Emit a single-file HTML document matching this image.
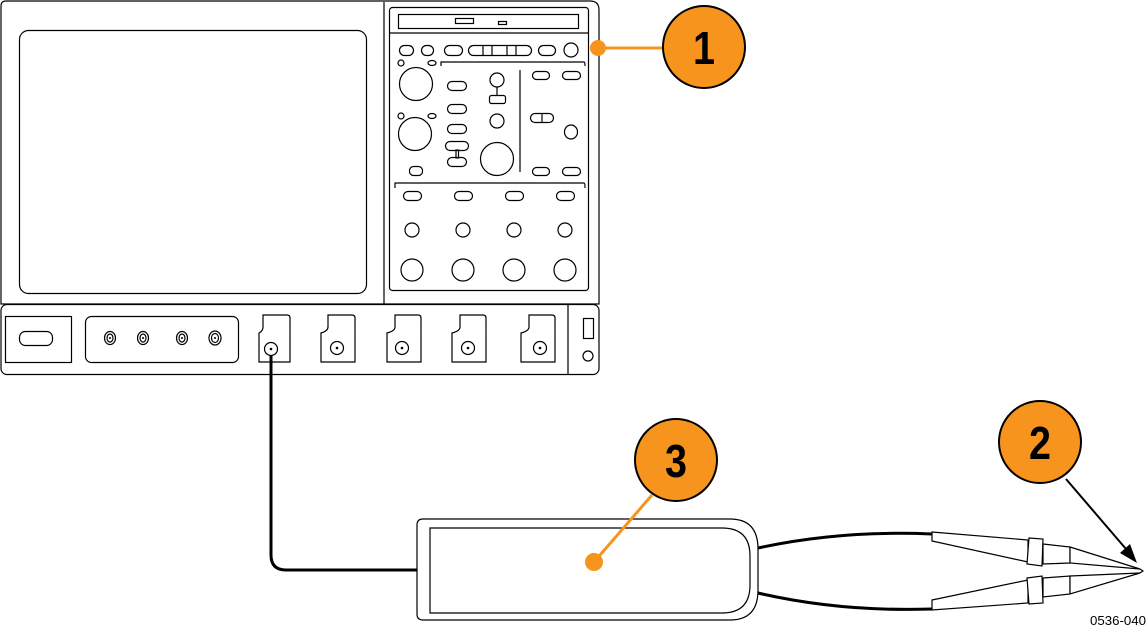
<!DOCTYPE html>
<html><head><style>html,body{margin:0;padding:0;background:#fff;width:1148px;height:631px;overflow:hidden}</style></head>
<body>
<svg width="1148" height="631" viewBox="0 0 1148 631" xmlns="http://www.w3.org/2000/svg" font-family="Liberation Sans, sans-serif">
<g fill="none" stroke="#000" stroke-width="1.2">
<path d="M6 1 H590 Q599 1 599 10 V304 H1 V6 Q1 1 6 1 Z"/>
<line x1="384" y1="2" x2="384" y2="304"/>
<rect x="19.5" y="30.5" width="347" height="263" rx="9"/>
<rect x="389.5" y="7.5" width="199" height="283" rx="3"/>
<rect x="398.5" y="14.5" width="180" height="14"/>
<rect x="455.5" y="18.5" width="18" height="5"/>
<rect x="498.5" y="21.5" width="8" height="3"/>
<line x1="389" y1="33" x2="589" y2="33"/>
<rect x="399.5" y="45.5" width="14" height="10" rx="5"/>
<rect x="421.5" y="45.5" width="12" height="10" rx="5"/>
<rect x="444.5" y="45.5" width="18" height="10" rx="5"/>
<rect x="468.5" y="45.5" width="63" height="10" rx="5"/>
<line x1="483" y1="45" x2="483" y2="56"/><line x1="492" y1="45" x2="492" y2="56"/><line x1="507" y1="45" x2="507" y2="56"/><line x1="516" y1="45" x2="516" y2="56"/>
<rect x="538.5" y="45.5" width="17" height="10" rx="5"/>
<circle cx="571" cy="50" r="7"/>
<circle cx="401" cy="63" r="3"/><ellipse cx="432" cy="63" rx="4" ry="2.5"/>
<path d="M441 66 V62 H584 Q585 62 585 66"/>
<circle cx="416" cy="84" r="16.5"/>
<circle cx="401" cy="116" r="3"/><ellipse cx="432" cy="116" rx="4" ry="2.5"/>
<circle cx="415" cy="134" r="16.5"/>
<rect x="409.5" y="166.5" width="13" height="9" rx="4"/>
<rect x="447.5" y="81.5" width="19" height="9" rx="4.5"/>
<rect x="447.5" y="104.5" width="19" height="9" rx="4.5"/>
<rect x="447.5" y="124.5" width="19" height="9" rx="4.5"/>
<rect x="445.5" y="141.5" width="23" height="9" rx="4.5"/>
<rect x="447.5" y="157.5" width="19" height="9" rx="4.5"/>
<rect x="456" y="150" width="2.5" height="8"/>
<circle cx="497" cy="80" r="7"/><line x1="497" y1="87" x2="497" y2="95"/>
<rect x="489.5" y="95.5" width="16" height="8" rx="2"/>
<circle cx="497" cy="121" r="7"/>
<circle cx="497" cy="159" r="16.5"/>
<line x1="520" y1="70" x2="520" y2="172"/>
<rect x="532.5" y="71.5" width="17" height="8" rx="4"/>
<rect x="562.5" y="71.5" width="18" height="8" rx="4"/>
<rect x="530.5" y="113.5" width="23" height="9" rx="4.5"/><line x1="542" y1="113" x2="542" y2="123"/>
<ellipse cx="571" cy="132" rx="6.5" ry="7"/>
<rect x="532.5" y="167.5" width="17" height="8" rx="4"/>
<rect x="562.5" y="167.5" width="18" height="8" rx="4"/>
<path d="M395 188 V183 H584 Q585 183 585 188"/>
<rect x="403.5" y="191.5" width="18" height="9" rx="4.5"/>
<rect x="454.5" y="191.5" width="18" height="9" rx="4.5"/>
<rect x="505.5" y="191.5" width="18" height="9" rx="4.5"/>
<rect x="556.5" y="191.5" width="18" height="9" rx="4.5"/>
<circle cx="412" cy="230" r="7"/><circle cx="463" cy="230" r="7"/><circle cx="514" cy="230" r="7"/><circle cx="565" cy="230" r="7"/>
<circle cx="412" cy="270" r="11"/><circle cx="463" cy="270" r="11"/><circle cx="514" cy="270" r="11"/><circle cx="565" cy="270" r="11"/>
<rect x="1" y="304.5" width="598" height="70" rx="6"/>
<rect x="5.5" y="316.5" width="66" height="46"/>
<rect x="19.5" y="331.5" width="33" height="14" rx="6"/>
<rect x="85.5" y="316.5" width="153" height="46" rx="6"/>
<ellipse cx="110" cy="338" rx="5.5" ry="6.5"/><ellipse cx="110" cy="338" rx="3" ry="4"/>
<ellipse cx="143" cy="338" rx="5.5" ry="6.5"/><ellipse cx="143" cy="338" rx="3" ry="4"/>
<ellipse cx="182" cy="338" rx="5.5" ry="6.5"/><ellipse cx="182" cy="338" rx="3" ry="4"/>
<ellipse cx="215" cy="338" rx="6" ry="7"/><ellipse cx="215" cy="338" rx="3.5" ry="4.5"/>
<path d="M263 315 H287 Q290 315 290 318 V362 H259 V333 Q263 331 263 327 Z"/>
<path d="M328 315 H352 Q355 315 355 318 V362 H321 V333 Q328 331 328 327 Z"/>
<path d="M395 315 H418 Q421 315 421 318 V362 H387 V333 Q395 331 395 327 Z"/>
<path d="M460 315 H483 Q486 315 486 318 V362 H452 V333 Q460 331 460 327 Z"/>
<path d="M529 315 H552 Q555 315 555 318 V362 H521 V333 Q529 331 529 327 Z"/>
<circle cx="271" cy="349" r="6.5"/>
<circle cx="337" cy="348" r="6.5"/><circle cx="402" cy="348" r="6.5"/><circle cx="468" cy="348" r="6.5"/><circle cx="540" cy="348" r="6.5"/>
<line x1="568" y1="305" x2="568" y2="374"/>
<rect x="583.5" y="318.5" width="10" height="20"/>
<circle cx="588" cy="356" r="5"/>
<path d="M423 519 H730 Q758 519 758 549 V590 Q758 620 730 620 H423 Q417 620 417 614 V525 Q417 519 423 519 Z"/>
<path d="M430 528 H722 Q750 528 750 556 V585 Q750 613 722 613 H430 Z"/>
<path d="M932 532 L1028 540 L1028 562 L932 541 Z" fill="#fff"/>
<path d="M1029 538 L1043 539 L1042 566 L1027 564 Z" fill="#fff"/>
<path d="M1043 544 L1070 547 L1070 563 L1043 564 Z" fill="#fff"/>
<path d="M1070 547 L1140 569 L1070 563 Z" fill="#fff"/>
<path d="M932 600 L1028 580 L1028 603 L932 610 Z" fill="#fff"/>
<path d="M1027 578 L1042 576 L1043 603 L1029 604 Z" fill="#fff"/>
<path d="M1043 578 L1070 576 L1070 594 L1043 597 Z" fill="#fff"/>
<path d="M1070 576 L1140 573 L1070 594 Z" fill="#fff"/>
<path d="M1140 569 L1143 571 L1140 573"/>
</g>
<g fill="#000">
<circle cx="271" cy="349" r="1.3"/><circle cx="337" cy="348" r="1.3"/><circle cx="402" cy="348" r="1.3"/><circle cx="468" cy="348" r="1.3"/><circle cx="540" cy="348" r="1.3"/>
<circle cx="110" cy="338" r="1"/><circle cx="143" cy="338" r="1"/><circle cx="182" cy="338" r="1"/><circle cx="215" cy="338" r="1"/>
</g>
<g fill="none" stroke="#000" stroke-width="3">
<path d="M271 356 V555 Q271 570 286 570 H417"/>
<path d="M758 548 Q840 530 932 534"/>
<path d="M758 593 Q840 612 932 609"/>
</g>
<g stroke="#F7941D" stroke-width="3" fill="#F7941D">
<line x1="598" y1="48" x2="664" y2="48"/>
<circle cx="598" cy="48" r="8" stroke="none"/>
<line x1="594" y1="562" x2="652" y2="495"/>
<circle cx="594" cy="562" r="9" stroke="none"/>
</g>
<line x1="1066" y1="479" x2="1132" y2="556" stroke="#000" stroke-width="2"/>
<polygon points="1137,563 1120,553 1130,544" fill="#000"/>
<g fill="#F7941D" stroke="#000" stroke-width="2">
<circle cx="704" cy="47" r="41"/>
<circle cx="676" cy="460" r="41"/>
<circle cx="1040" cy="442" r="41"/>
</g>
<g font-weight="bold" font-size="46" text-anchor="middle" fill="#000">
<text x="704" y="64" textLength="22" lengthAdjust="spacingAndGlyphs">1</text>
<text x="676" y="477" textLength="22" lengthAdjust="spacingAndGlyphs">3</text>
<text x="1040" y="459" textLength="22" lengthAdjust="spacingAndGlyphs">2</text>
</g>
<text x="1146" y="625" font-size="13" text-anchor="end" fill="#000" textLength="56" lengthAdjust="spacingAndGlyphs">0536-040</text>
</svg>
</body></html>
